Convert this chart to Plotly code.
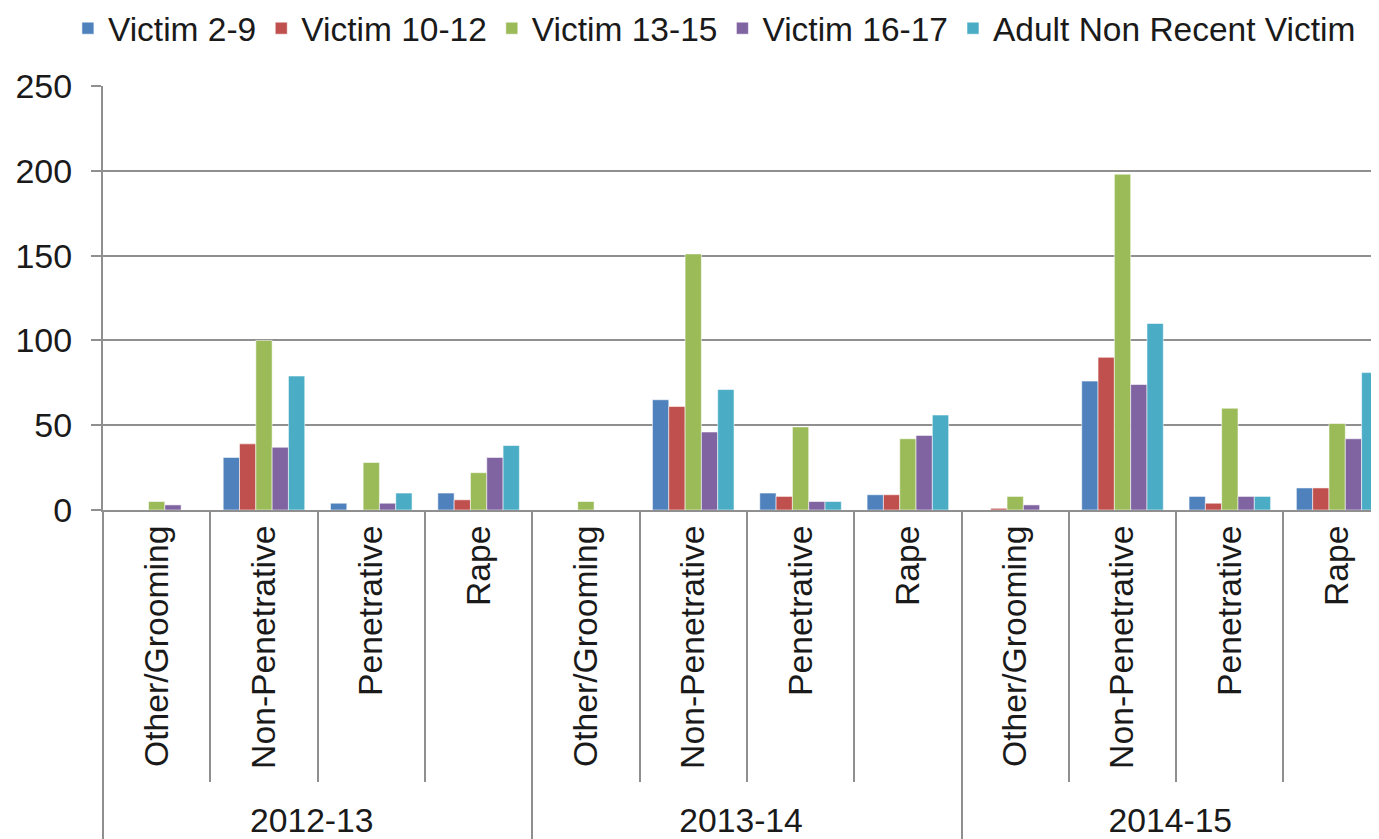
import plotly.graph_objects as go

years = ["2012-13", "2013-14", "2014-15"]
offences = ["Other/Grooming", "Non-Penetrative", "Penetrative", "Rape"]

series_names = ["Victim 2-9", "Victim 10-12", "Victim 13-15", "Victim 16-17", "Adult Non Recent Victim"]
victim_2_9 = [0, 31, 4, 10, 0, 65, 10, 9, 0, 76, 8, 13]
victim_10_12 = [0, 39, 0, 6, 0, 61, 8, 9, 1, 90, 4, 13]
victim_13_15 = [5, 100, 28, 22, 5, 151, 49, 42, 8, 198, 60, 51]
victim_16_17 = [3, 37, 4, 31, 0, 46, 5, 44, 3, 74, 8, 42]
adult_non_recent = [0, 79, 10, 38, 0, 71, 5, 56, 0, 110, 8, 81]
colors = ["#4F81BD", "#C0504D", "#9BBB59", "#8064A2", "#4BACC6"]

y_ticks = [0, 50, 100, 150, 200, 250]

outer = [y for y in years for _ in offences]
inner = [o for _ in years for o in offences]

FONT = "Liberation Sans, Arial, sans-serif"
GRID = "#8f8f8f"

fig = go.Figure()
for name, vals, col in zip(series_names,
                           [victim_2_9, victim_10_12, victim_13_15, victim_16_17, adult_non_recent],
                           colors):
    fig.add_trace(go.Bar(
        x=[outer, inner], y=vals, name=name,
        marker=dict(color=col, line=dict(color="rgba(255,255,255,0.55)", width=1)),
    ))

# page body has an 8px default margin; figure sized to fit the window exactly
fig.update_layout(
    width=1371, height=831,
    margin=dict(l=95, r=0, t=78, b=329, autoexpand=False),
    paper_bgcolor="white", plot_bgcolor="white",
    barmode="group", bargap=0.24, bargroupgap=0,
    font=dict(family=FONT, size=33, color="#1a1a1a"),
    legend=dict(orientation="h", x=-0.0275, xanchor="left", y=1.203, yanchor="top",
                font=dict(size=33.5), itemwidth=30, tracegroupgap=0,
                bgcolor="rgba(0,0,0,0)"),
    xaxis=dict(
        type="multicategory",
        range=[-0.5, 11.39],
        automargin=False,
        tickangle=-90,
        ticks="outside", ticklen=270, tickcolor=GRID, tickwidth=2,
        tickfont=dict(size=33.7),
        showline=True, linecolor=GRID, linewidth=2,
        showdividers=True, dividercolor=GRID, dividerwidth=2,
        showgrid=False,
    ),
    yaxis=dict(
        range=[0, 250], tickvals=y_ticks,
        automargin=False,
        showgrid=True, gridcolor=GRID, gridwidth=2,
        showline=True, linecolor=GRID, linewidth=2,
        ticks="outside", ticklen=10, tickcolor=GRID, tickwidth=2,
        ticklabelstandoff=12,
        tickfont=dict(size=34),
        zeroline=False,
    ),
)

fig.write_html("out.html")
